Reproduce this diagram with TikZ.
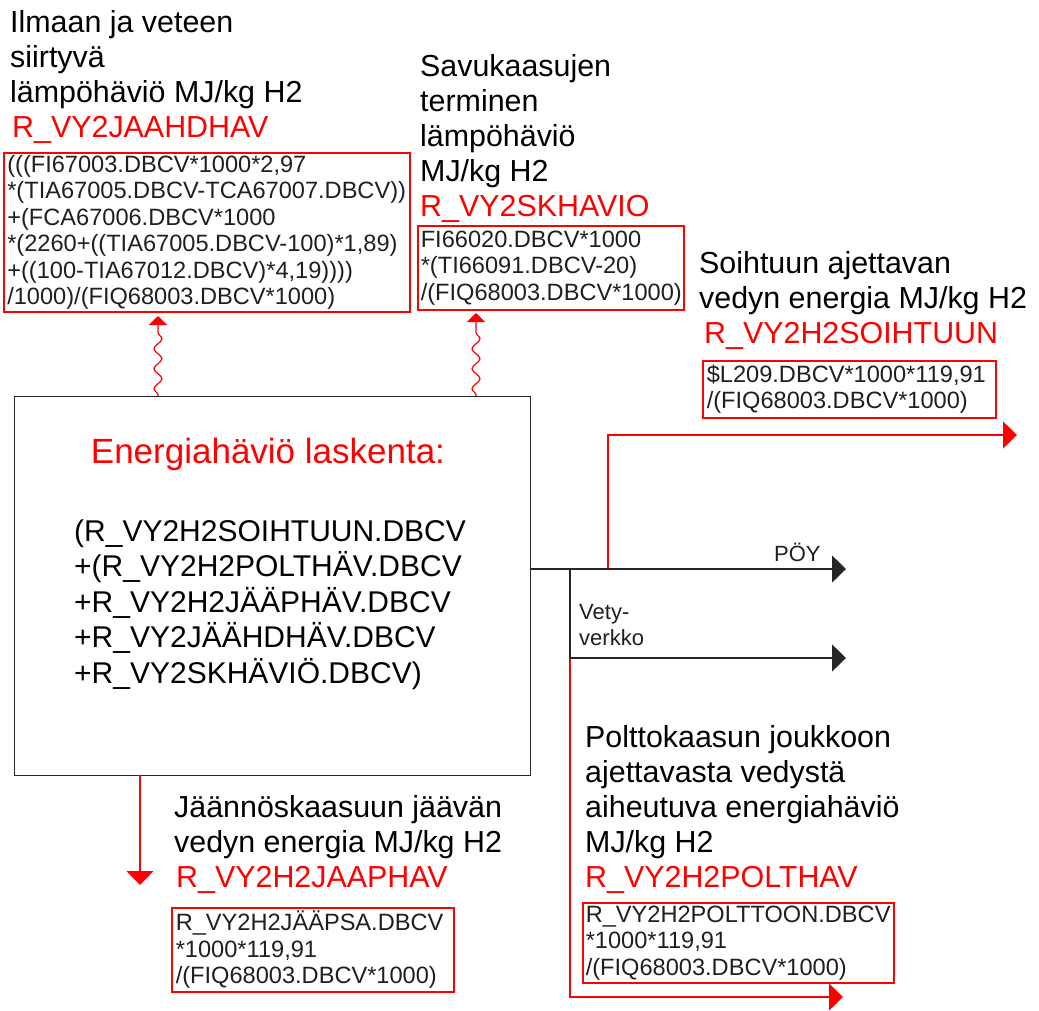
\documentclass[tikz,border=0pt]{standalone}
\usepackage{fontspec}
\setmainfont{Liberation Sans}
\usetikzlibrary{arrows.meta,decorations.pathmorphing}
\newcommand\lstrut{\rule{0pt}{28pt}}
\newcommand\sstrut{\rule{0pt}{20pt}}
\exhyphenpenalty=10000
\hyphenpenalty=10000
\begin{document}
\begin{tikzpicture}[x=1pt,y=-1pt,
  lab/.style={anchor=north west,inner sep=0pt,align=left,font=\fontsize{30.4}{35}\selectfont},
  formula/.style={draw=red,line width=1.6pt,anchor=north west,inner ysep=0pt,align=left,
    text=black!88,font=\fontsize{23.6}{26.5}\selectfont},
  blk/.style={black!85,line width=1.4pt,-{Triangle[width=27pt,length=14pt]}},
  rd/.style={red,line width=1.4pt,-{Triangle[width=27pt,length=14pt]}},
  wavy/.style={red,line width=1.2pt,decorate,
    decoration={snake,amplitude=4pt,segment length=20pt,post length=10pt,pre length=1pt},
    -{Triangle[width=18pt,length=9pt]}},
  small/.style={inner sep=0pt,font=\fontsize{22}{26}\selectfont,text=black!88}
]
\useasboundingbox (0,0) rectangle (1039,1010);

% main box
\node[draw=black!85,line width=1.4pt,anchor=north west,minimum width=516pt,minimum height=379pt,inner sep=0pt] (main) at (14,396) {};
\node[anchor=base,inner sep=0pt,text=red,font=\fontsize{35}{40}\selectfont] (title) at (268,463) {Energiahäviö laskenta:};
\node[anchor=north west,inner sep=0pt,align=left,font=\fontsize{30}{35.5}\selectfont] (sum) at (74,513)
 {\lstrut(R\_VY2H2SOIHTUUN.DBCV\\{}+(R\_VY2H2POLTHÄV.DBCV\\{}+R\_VY2H2JÄÄPHÄV.DBCV\\{}+R\_VY2JÄÄHDHÄV.DBCV\\{}+R\_VY2SKHÄVIÖ.DBCV)};

% labels
\node[lab] (l1) at (10,4) {\lstrut Ilmaan ja veteen\\siirtyvä\\lämpöhäviö MJ/kg H2\\\textcolor{red}{\hspace*{2pt}R\_VY2JAAHDHAV}};
\node[lab] (l2) at (420,48) {\lstrut Savukaasujen\\terminen\\lämpöhäviö\\MJ/kg H2\\\textcolor{red}{R\_VY2SKHAVIO}};
\node[lab] (l3) at (699,245) {\lstrut Soihtuun ajettavan\\vedyn energia MJ/kg H2\\\textcolor{red}{\hspace*{5pt}R\_VY2H2SOIHTUUN}};
\node[lab] (l4) at (174,789) {\lstrut Jäännöskaasuun jäävän\\vedyn energia MJ/kg H2\\\textcolor{red}{\hspace*{2pt}R\_VY2H2JAAPHAV}};
\node[lab] (l5) at (585,719) {\lstrut Polttokaasun joukkoon\\ajettavasta vedystä\\aiheutuva energiahäviö\\MJ/kg H2\\\textcolor{red}{R\_VY2H2POLTHAV}};

% formula boxes
\node[formula,inner xsep=3.5pt,minimum width=406pt,minimum height=159pt,text width=399pt] (f1) at (3,152)
 {(((FI67003.DBCV*1000*2,97\\{}*(TIA67005.DBCV-TCA67007.DBCV))\\{}+(FCA67006.DBCV*1000\\{}*(2260+((TIA67005.DBCV-100)*1,89)\\{}+((100-TIA67012.DBCV)*4,19))))\\{}/1000)/(FIQ68003.DBCV*1000)};
\node[formula,inner xsep=3pt,minimum width=266pt,minimum height=84pt,text width=260pt] (f2) at (417,225)
 {FI66020.DBCV*1000\\{}*(TI66091.DBCV-20)\\{}/(FIQ68003.DBCV*1000)};
\node[formula,inner xsep=4pt,minimum width=293pt,minimum height=57pt,text width=285pt,font=\fontsize{23.6}{25.5}\selectfont] (f3) at (702,360)
 {\$L209.DBCV*1000*119,91\\{}/(FIQ68003.DBCV*1000)};
\node[formula,inner xsep=4pt,minimum width=282pt,minimum height=84pt,text width=274pt] (f4) at (171,907)
 {R\_VY2H2JÄÄPSA.DBCV\\{}*1000*119,91\\{}/(FIQ68003.DBCV*1000)};
\node[formula,inner xsep=3pt,minimum width=311pt,minimum height=80pt,text width=305pt] (f5) at (582,902)
 {R\_VY2H2POLTTOON.DBCV\\{}*1000*119,91\\{}/(FIQ68003.DBCV*1000)};

% small labels
\node[small,anchor=base west] (poyl) at (774,561) {PÖY};
\node[small,anchor=north west,align=left] (vetyl) at (579,599) {\sstrut Vety-\\verkko};

% coordinates
\coordinate (mainR) at (530,569);
\coordinate (split1) at (608,569);
\coordinate (split2) at (570,569);
\coordinate (vetyC) at (570,658);
\coordinate (poyE) at (846,569);
\coordinate (soiE) at (1017,435);
\coordinate (vetyE) at (846,658);
\coordinate (poltE) at (843,997);
\coordinate (mainB) at (140,775);
\coordinate (jaaE) at (140,885);
\coordinate (w1s) at (158,396);
\coordinate (w1e) at (158,316);
\coordinate (w2s) at (476,396);
\coordinate (w2e) at (476,313);

% connectors
\draw[rd] (split1) |- (soiE);
\draw[rd] (vetyC) |- (poltE);
\draw[blk] (mainR) -- (poyE);
\draw[blk] (split2) |- (vetyE);
\draw[rd] (mainB) -- (jaaE);
\draw[wavy] (w1s) -- (w1e);
\draw[wavy] (w2s) -- (w2e);
\end{tikzpicture}
\end{document}
